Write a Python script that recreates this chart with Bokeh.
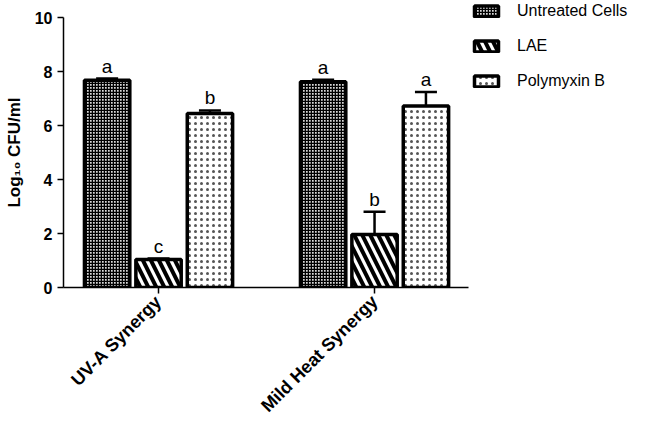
from bokeh.plotting import figure
from bokeh.models import (Range1d, FixedTicker, Whisker, ColumnDataSource, Legend,
                          LegendItem, TeeHead)
from bokeh.core.properties import value
from bokeh.embed import file_html
from bokeh.resources import INLINE
from math import pi

groups = ["UV-A Synergy", "Mild Heat Synergy"]
group_pos = [0, 1]
treatments = ["Untreated Cells", "LAE", "Polymyxin B"]
untreated = [7.68, 7.62]
untreated_err = [0.06, 0.07]
lae = [1.04, 1.96]
lae_err = [0.03, 0.85]
poly = [6.44, 6.72]
poly_err = [0.12, 0.52]
letters_untreated = ["a", "a"]
letters_lae = ["c", "b"]
letters_poly = ["b", "a"]
y_ticks = [0, 2, 4, 6, 8, 10]

FONT = "Liberation Sans"

p = figure(frame_width=405, frame_height=270, output_backend="svg", toolbar_location=None,
           x_range=Range1d(-0.44, 1.435), y_range=Range1d(0, 10),
           min_border_left=63, min_border_right=182, min_border_top=17,
           min_border_bottom=137)
p.outline_line_color = None
p.grid.visible = False
p.background_fill_color = "white"

offsets = [-0.238, 0.0, 0.238]
width = 0.21
specs = [
    (untreated, untreated_err, letters_untreated, dict(hatch_pattern="+", hatch_scale=3.0, hatch_weight=1.6, fill_color="#d8d8d8", hatch_color="black")),
    (lae, lae_err, letters_lae, dict(hatch_pattern="\\", hatch_scale=16.0, hatch_weight=4.0, fill_color="white", hatch_color="black")),
    (poly, poly_err, letters_poly, dict(hatch_pattern=".", hatch_scale=6.0, hatch_weight=0.5, fill_color="white", hatch_color="#555555")),
]

items = []
for (vals, errs, letters, style), off, name in zip(specs, offsets, treatments):
    xs = [g + off for g in group_pos]
    src = ColumnDataSource(dict(x=xs, top=vals,
                                upper=[v + e for v, e in zip(vals, errs)],
                                lower=[v - e for v, e in zip(vals, errs)],
                                letter=letters))
    r = p.vbar(x="x", top="top", width=width, bottom=0, source=src,
               line_color="black", line_width=3.5, **style)
    items.append(LegendItem(label=name, renderers=[r]))
    w = Whisker(base="x", upper="upper", lower="lower", source=src,
                line_color="black", line_width=2.5,
                upper_head=TeeHead(size=22, line_width=2.5, line_color="black"),
                lower_head=TeeHead(size=22, line_width=2.5, line_color="black"))
    p.add_layout(w)
    p.text(x="x", y="upper", text="letter", source=src, text_align="center",
           text_baseline="bottom", y_offset=-2, text_font=value(FONT),
           text_font_size="19px", text_color="black")

legend = Legend(items=items, location=(3, 197), orientation="vertical",
                glyph_width=30, glyph_height=14, label_standoff=16,
                label_text_font=FONT, label_text_font_size="16px",
                label_text_color="black",
                label_height=14, spacing=17, padding=2, margin=0,
                border_line_color=None, background_fill_alpha=0)
p.add_layout(legend, "right")

p.yaxis.ticker = FixedTicker(ticks=y_ticks)
p.yaxis.axis_label = "Log₁₀ CFU/ml"
p.yaxis.axis_label_text_font = FONT
p.yaxis.axis_label_text_font_size = "17px"
p.yaxis.axis_label_text_font_style = "bold"
p.yaxis.axis_label_text_color = "black"
p.yaxis.axis_label_standoff = 8
p.yaxis.major_label_text_font = FONT
p.yaxis.major_label_text_font_size = "16px"
p.yaxis.major_label_text_font_style = "bold"
p.yaxis.major_label_text_color = "black"
p.yaxis.minor_tick_line_color = None
p.yaxis.major_tick_out = 6
p.yaxis.major_tick_in = 0
p.yaxis.axis_line_width = 1.5
p.yaxis.major_tick_line_width = 1.5

p.xaxis.ticker = FixedTicker(ticks=group_pos)
p.xaxis.major_label_overrides = {g: n for g, n in zip(group_pos, groups)}
p.xaxis.major_label_orientation = pi / 4
p.xaxis.major_label_text_font = FONT
p.xaxis.major_label_text_font_size = "18px"
p.xaxis.major_label_text_font_style = "bold"
p.xaxis.major_label_text_color = "black"
p.xaxis.minor_tick_line_color = None
p.xaxis.major_tick_out = 6
p.xaxis.major_tick_in = 0
p.xaxis.axis_line_width = 1.5
p.xaxis.major_tick_line_width = 1.5

open("out.html", "w").write(file_html(p, INLINE))
